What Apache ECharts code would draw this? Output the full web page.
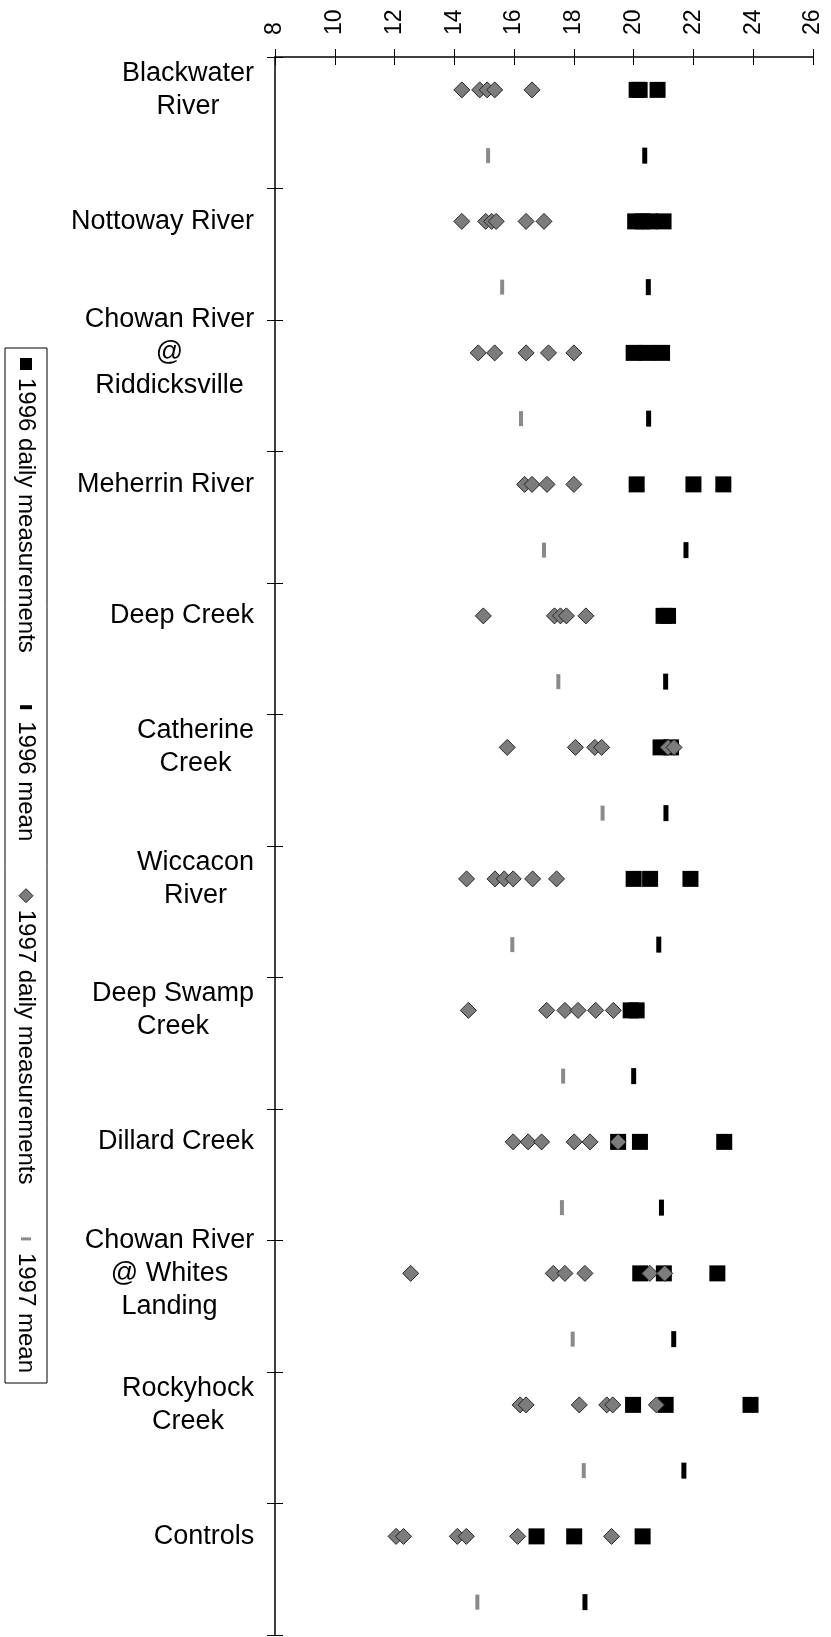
<!DOCTYPE html>
<html><head><meta charset="utf-8">
<script src="https://cdn.jsdelivr.net/npm/echarts@6/dist/echarts.min.js"></script>
<style>html,body{margin:0;padding:0;background:#fff}#c{width:831px;height:1637px}</style>
</head><body><div id="c"></div>
<script>
// ---- data ----
const categories = ['Blackwater\nRiver', 'Nottoway River', 'Chowan River\n@\nRiddicksville', 'Meherrin River',
  'Deep Creek', 'Catherine\nCreek', 'Wiccacon\nRiver', 'Deep Swamp\nCreek', 'Dillard Creek',
  'Chowan River\n@ Whites\nLanding', 'Rockyhock\nCreek', 'Controls'];
const daily1996 = [
  [20.1, 20.2, 20.8],
  [20.05, 20.3, 20.55, 21.0],
  [20.0, 20.45, 20.95],
  [20.1, 22.0, 23.0],
  [21.0, 21.15],
  [20.9, 21.25],
  [20.0, 20.55, 21.9],
  [19.9, 20.1],
  [19.48, 20.21, 23.03],
  [20.22, 21.01, 22.8],
  [19.98, 21.07, 23.91],
  [16.75, 18.01, 20.3]
];
const daily1997 = [
  [14.25, 14.85, 15.1, 15.35, 16.6],
  [14.25, 15.05, 15.25, 15.4, 16.4, 17.0],
  [14.8, 15.35, 16.4, 17.15, 18.0],
  [16.35, 16.6, 17.1, 18.0],
  [14.97, 17.35, 17.55, 17.75, 18.4],
  [15.77, 18.05, 18.7, 18.93, 21.15, 21.35],
  [14.41, 15.36, 15.67, 15.97, 16.62, 17.42],
  [14.47, 17.09, 17.7, 18.14, 18.73, 19.32],
  [15.97, 16.47, 16.92, 18.01, 18.54, 19.48],
  [12.54, 17.31, 17.7, 18.37, 20.54, 21.04],
  [16.2, 16.4, 18.18, 19.1, 19.3, 20.76],
  [12.05, 12.3, 14.1, 14.4, 16.12, 19.26]
];
const mean1996 = [20.37, 20.49, 20.5, 21.75, 21.07, 21.08, 20.84, 20.0, 20.93, 21.34, 21.68, 18.37];
const mean1997 = [15.13, 15.6, 16.23, 17.0, 17.48, 18.96, 15.94, 17.64, 17.6, 17.96, 18.33, 14.77];
const xMin = 8, xMax = 26, xStep = 2;
const legendLabels = ['1996 daily measurements', '1996 mean', '1997 daily measurements', '1997 mean'];

// ---- build ----
const FONT = '"Liberation Sans", Arial, sans-serif';
const canvas = document.createElement('canvas');
const ctx = canvas.getContext('2d');
const CAT_FS = 27;
ctx.font = CAT_FS + 'px "Liberation Sans"';
const rich = {};
categories.forEach((c, k) => {
  const w = Math.max(...c.split('\n').map(l => ctx.measureText(l).width));
  rich['c' + k] = {width: Math.ceil(w) + 1, align: 'center', fontSize: CAT_FS, lineHeight: 33, fontFamily: FONT, color: '#000'};
});
const rows = [];
categories.forEach((c, i) => { rows.push('d' + i); rows.push('m' + i); });

const dailyRow = i => 2 * i, meanRow = i => 2 * i + 1;
const s96 = daily1996.flatMap((vals, i) => vals.map(v => [v, dailyRow(i)]));
const s97 = daily1997.flatMap((vals, i) => vals.map(v => [v, dailyRow(i)]));
const m96 = mean1996.map((v, i) => [v, meanRow(i)]);
const m97 = mean1997.map((v, i) => [v, meanRow(i)]);

const C97 = '#7c7c7c', B97 = '#262626', CM97 = '#8a8a8a';

// legend (rotated)
const LEG = {x: 47, y: 348, len: 1035, thick: 42, font: 24};
ctx.font = LEG.font + 'px "Liberation Sans"';
const tw = legendLabels.map(t => ctx.measureText(t).width);
const iconSlot = 12, iconGap = 8, pad = 10;
const gap = (LEG.len - 2 * pad - tw.reduce((a, b) => a + b, 0) - 4 * (iconSlot + iconGap)) / 3;
const mid = LEG.thick / 2;
const legChildren = [{type: 'rect', shape: {x: 0, y: 0, width: LEG.len, height: LEG.thick}, style: {fill: '#fff', stroke: '#000', lineWidth: 1}}];
let u = pad;
const icons = [
  (u0) => ({type: 'rect', shape: {x: u0, y: mid - 6, width: 12, height: 12}, style: {fill: '#000'}}),
  (u0) => ({type: 'rect', shape: {x: u0 + 4, y: mid - 6, width: 4, height: 12}, style: {fill: '#000'}}),
  (u0) => ({type: 'polygon', shape: {points: [[u0 + 6, mid - 7], [u0 + 13, mid], [u0 + 6, mid + 7], [u0 - 1, mid]]}, style: {fill: C97, stroke: B97, lineWidth: 1}}),
  (u0) => ({type: 'rect', shape: {x: u0 + 4.5, y: mid - 5, width: 3, height: 10}, style: {fill: CM97}})
];
legendLabels.forEach((t, i) => {
  legChildren.push(icons[i](u));
  u += iconSlot + iconGap;
  legChildren.push({type: 'text', style: {text: t, x: u, y: mid, font: LEG.font + 'px ' + FONT, fill: '#000', align: 'left', verticalAlign: 'middle', textAlign: 'left', textVerticalAlign: 'middle'}});
  u += tw[i] + gap;
});

const chart = echarts.init(document.getElementById('c'), null, {renderer: 'canvas'});
const yTickAxis = (inside) => ({
  type: 'value', min: 0, max: categories.length, interval: 1, inverse: true, position: 'left',
  axisLine: {show: false, onZero: false}, axisLabel: {show: false}, splitLine: {show: false},
  axisTick: {show: true, inside: inside, length: 8, lineStyle: {color: '#000', width: 1}}
});
chart.setOption({
  backgroundColor: '#fff',
  animation: false,
  grid: {left: 275, right: 18, top: 57, bottom: 2, containLabel: false},
  xAxis: [{
    type: 'value', position: 'top', min: xMin, max: xMax, interval: xStep,
    axisLine: {show: true, onZero: false, lineStyle: {color: '#000', width: 1.5}},
    axisTick: {show: true, length: 8, lineStyle: {color: '#000', width: 1}},
    axisLabel: {rotate: -90, fontSize: 23, color: '#000', margin: 22, fontFamily: FONT},
    splitLine: {show: false}
  }, {
    type: 'value', position: 'top', min: xMin, max: xMax, interval: xStep,
    axisLine: {show: false, onZero: false}, axisLabel: {show: false}, splitLine: {show: false},
    axisTick: {show: true, inside: true, length: 8, lineStyle: {color: '#000', width: 1}}
  }],
  yAxis: [{
    type: 'category', data: rows, inverse: true, position: 'left', boundaryGap: true,
    axisLine: {show: true, onZero: false, lineStyle: {color: '#000', width: 1.5}},
    axisTick: {show: false},
    axisLabel: {
      interval: 0, margin: 20, align: 'right', rich: rich,
      formatter: (val, idx) => {
        if (idx % 2 !== 0) return '';
        const k = idx / 2;
        return categories[k].split('\n').map(l => '{c' + k + '|' + l + '}').join('\n');
      }
    },
    splitLine: {show: false}
  }, yTickAxis(false), yTickAxis(true)],
  series: [
    {name: '1996 daily measurements', type: 'scatter', xAxisIndex: 0, yAxisIndex: 0, data: s96, symbol: 'rect', symbolSize: 16, itemStyle: {color: '#000', opacity: 1}, z: 2},
    {name: '1997 daily measurements', type: 'scatter', xAxisIndex: 0, yAxisIndex: 0, data: s97, symbol: 'diamond', symbolSize: 16, itemStyle: {color: C97, borderColor: B97, borderWidth: 1, opacity: 1}, z: 3},
    {name: '1996 mean', type: 'scatter', xAxisIndex: 0, yAxisIndex: 0, data: m96, symbol: 'rect', symbolSize: [5, 16], itemStyle: {color: '#000', opacity: 1}, z: 2},
    {name: '1997 mean', type: 'scatter', xAxisIndex: 0, yAxisIndex: 0, data: m97, symbol: 'rect', symbolSize: [4, 15], itemStyle: {color: CM97, opacity: 1}, z: 2}
  ],
  graphic: [{type: 'group', x: LEG.x, y: LEG.y, rotation: -Math.PI / 2, children: legChildren}]
});
</script></body></html>
